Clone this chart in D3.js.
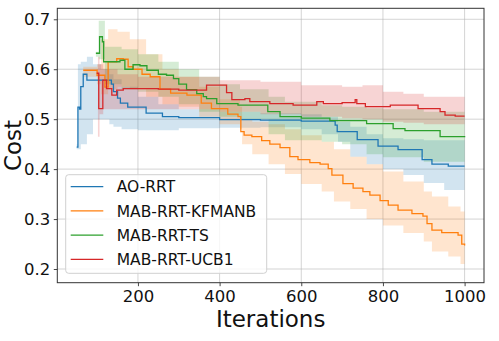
<!DOCTYPE html>
<html>
<head>
<meta charset="utf-8">
<script src="https://cdn.jsdelivr.net/npm/d3@7/dist/d3.min.js"></script>
<style>
  html, body { margin: 0; padding: 0; background: #fff; }
  svg { display: block; font-family: "DejaVu Sans", sans-serif; }
</style>
</head>
<body>
<svg id="chart" width="499" height="341"></svg>
<script>
// ---- data (iteration, value) ----
const seriesNames = ["AO-RRT", "MAB-RRT-KFMANB", "MAB-RRT-TS", "MAB-RRT-UCB1"];
const seriesColors = ["#1f77b4", "#ff7f0e", "#2ca02c", "#d62728"];
const xTicks = [200, 400, 600, 800, 1000];
const yTicks = [0.2, 0.3, 0.4, 0.5, 0.6, 0.7];

const aoMean = [[50,0.444],[53,0.524],[57,0.52],[60,0.565],[66,0.59],[75,0.578],[110,0.578],[135,0.57],[140,0.555],[150,0.542],[157,0.532],[175,0.524],[220,0.512],[260,0.505],[300,0.503],[400,0.499],[500,0.498],[600,0.496],[683,0.488],[688,0.475],[737,0.459],[788,0.446],[837,0.439],[896,0.419],[920,0.41],[960,0.406],[1000,0.406]];
const aoBand = [[50,0.44,0.45],[53,0.44,0.61],[60,0.45,0.615],[75,0.47,0.625],[90,0.5,0.61],[110,0.5,0.6],[130,0.49,0.59],[140,0.485,0.58],[160,0.48,0.565],[200,0.478,0.545],[250,0.478,0.53],[300,0.482,0.52],[400,0.483,0.515],[500,0.484,0.512],[600,0.48,0.51],[650,0.47,0.505],[690,0.455,0.495],[720,0.425,0.485],[760,0.41,0.47],[800,0.4,0.462],[850,0.388,0.46],[900,0.372,0.458],[950,0.358,0.458],[1000,0.352,0.455]];

const kfMean = [[66,0.598],[100,0.588],[119,0.564],[127,0.615],[148,0.621],[164,0.62],[176,0.605],[188,0.6],[210,0.59],[230,0.585],[254,0.56],[280,0.552],[320,0.548],[355,0.532],[380,0.521],[420,0.51],[445,0.505],[452,0.475],[460,0.468],[479,0.465],[503,0.457],[523,0.45],[548,0.443],[572,0.425],[592,0.419],[621,0.413],[646,0.41],[666,0.401],[675,0.388],[702,0.371],[727,0.362],[751,0.355],[768,0.348],[793,0.337],[813,0.328],[837,0.318],[871,0.311],[898,0.306],[908,0.291],[920,0.278],[944,0.273],[984,0.268],[993,0.25],[1000,0.247]];
const kfBand = [[66,0.585,0.605],[100,0.57,0.61],[110,0.55,0.66],[127,0.56,0.68],[150,0.565,0.675],[180,0.56,0.66],[220,0.545,0.63],[260,0.53,0.6],[300,0.525,0.585],[350,0.505,0.565],[400,0.49,0.54],[450,0.48,0.525],[455,0.45,0.5],[480,0.43,0.495],[520,0.41,0.49],[560,0.39,0.48],[600,0.37,0.468],[650,0.355,0.455],[680,0.335,0.44],[720,0.32,0.425],[760,0.3,0.41],[800,0.287,0.395],[850,0.272,0.375],[900,0.255,0.355],[920,0.235,0.345],[960,0.225,0.325],[990,0.21,0.315],[1000,0.198,0.3]];

const tsMean = [[97,0.632],[106,0.665],[113,0.655],[116,0.615],[135,0.615],[156,0.618],[168,0.6],[188,0.609],[205,0.607],[222,0.598],[250,0.59],[270,0.588],[287,0.581],[300,0.57],[319,0.559],[344,0.551],[360,0.545],[368,0.541],[393,0.531],[445,0.528],[518,0.515],[548,0.505],[600,0.502],[670,0.497],[760,0.491],[825,0.481],[854,0.477],[940,0.465],[1000,0.464]];
const tsBand = [[97,0.625,0.635],[104,0.62,0.697],[119,0.57,0.645],[160,0.56,0.64],[200,0.555,0.63],[250,0.545,0.615],[300,0.53,0.6],[350,0.515,0.585],[400,0.505,0.57],[450,0.5,0.56],[520,0.47,0.545],[560,0.458,0.535],[650,0.455,0.528],[700,0.45,0.525],[760,0.43,0.522],[800,0.424,0.52],[900,0.415,0.515],[1000,0.418,0.51]];

const ucbMean = [[99,0.592],[104,0.521],[114,0.578],[123,0.561],[136,0.548],[148,0.558],[164,0.561],[250,0.56],[300,0.558],[368,0.568],[417,0.553],[430,0.539],[462,0.541],[474,0.535],[523,0.531],[580,0.528],[638,0.535],[654,0.531],[700,0.533],[732,0.539],[736,0.531],[757,0.525],[818,0.528],[886,0.521],[940,0.515],[952,0.508],[977,0.506],[1000,0.506]];
const ucbBand = [[99,0.585,0.6],[102,0.465,0.625],[106,0.51,0.61],[115,0.52,0.6],[150,0.52,0.59],[200,0.52,0.585],[300,0.52,0.585],[400,0.515,0.578],[500,0.51,0.575],[600,0.505,0.568],[700,0.502,0.565],[750,0.5,0.568],[800,0.495,0.555],[850,0.493,0.551],[900,0.49,0.545],[1000,0.486,0.53]];

const means = [aoMean, kfMean, tsMean, ucbMean];
const bands = [aoBand, kfBand, tsBand, ucbBand];

// ---- layout ----
const svg = d3.select("#chart");
const L = 57.3, R = 484, T = 8.3, B = 282.7;
const x = d3.scaleLinear().domain([2.5, 1047.5]).range([L, R]);
const y = d3.scaleLinear().domain([0.1726, 0.722]).range([B, T]);

// grid
const grid = svg.append("g");
grid.selectAll("line.gx").data(xTicks).join("line")
  .attr("x1", d => x(d)).attr("x2", d => x(d)).attr("y1", T).attr("y2", B)
  .attr("stroke", "#b0b0b0").attr("stroke-opacity", 0.55).attr("stroke-width", 1);
grid.selectAll("line.gy").data(yTicks).join("line")
  .attr("y1", d => y(d)).attr("y2", d => y(d)).attr("x1", L).attr("x2", R)
  .attr("stroke", "#b0b0b0").attr("stroke-opacity", 0.55).attr("stroke-width", 1);

svg.append("clipPath").attr("id", "clip").append("rect")
  .attr("x", L).attr("y", T).attr("width", R - L).attr("height", B - T);
const plot = svg.append("g").attr("clip-path", "url(#clip)");

const area = d3.area().curve(d3.curveStepAfter)
  .x(d => x(d[0])).y0(d => y(d[1])).y1(d => y(d[2]));
const line = d3.line().curve(d3.curveStepAfter)
  .x(d => x(d[0])).y(d => y(d[1]));

bands.forEach((b, i) => {
  plot.append("path").attr("d", area(b))
    .attr("fill", seriesColors[i]).attr("fill-opacity", 0.2).attr("stroke", "none");
});
means.forEach((m, i) => {
  plot.append("path").attr("d", line(m))
    .attr("fill", "none").attr("stroke", seriesColors[i]).attr("stroke-width", 1.3);
});

// axes
const xAxis = svg.append("g").attr("transform", `translate(0,${B})`)
  .call(d3.axisBottom(x).tickValues(xTicks).tickSize(3.5).tickPadding(3.5).tickFormat(d3.format("d")));
const yAxis = svg.append("g").attr("transform", `translate(${L},0)`)
  .call(d3.axisLeft(y).tickValues(yTicks).tickSize(3.5).tickPadding(3.5).tickFormat(d3.format(".1f")));
[xAxis, yAxis].forEach(a => {
  a.select(".domain").remove();
  a.selectAll("line").attr("stroke", "#333").attr("stroke-width", 0.9);
  a.selectAll("text").attr("fill", "#111").style("font-size", "16.5px").style("font-family", "DejaVu Sans");
});
xAxis.selectAll("text").attr("dy", null).attr("y", 19.3);

// spines
svg.append("rect").attr("x", L).attr("y", T).attr("width", R - L).attr("height", B - T)
  .attr("fill", "none").attr("stroke", "#333").attr("stroke-width", 1);

// axis labels
svg.append("text").attr("x", (L + R) / 2).attr("y", 326.7).attr("text-anchor", "middle")
  .style("font-size", "23px").attr("fill", "#111").text("Iterations");
svg.append("text").attr("transform", `translate(20.5,${(T + B) / 2}) rotate(-90)`)
  .attr("text-anchor", "middle").style("font-size", "23px").attr("fill", "#111").text("Cost");

// legend
const lg = svg.append("g");
lg.append("rect").attr("x", 65.7).attr("y", 174.7).attr("width", 201).attr("height", 98.6)
  .attr("rx", 3).attr("fill", "#fff").attr("fill-opacity", 0.8)
  .attr("stroke", "#d0d0d0").attr("stroke-width", 1);
seriesNames.forEach((n, i) => {
  const cy = 186.7 + i * 24.2;
  lg.append("line").attr("x1", 70.7).attr("x2", 103.3).attr("y1", cy).attr("y2", cy)
    .attr("stroke", seriesColors[i]).attr("stroke-width", 1.3);
  lg.append("text").attr("x", 116.7).attr("y", cy + 5.6)
    .style("font-size", "15.5px").attr("fill", "#111").text(n);
});
</script>
</body>
</html>
